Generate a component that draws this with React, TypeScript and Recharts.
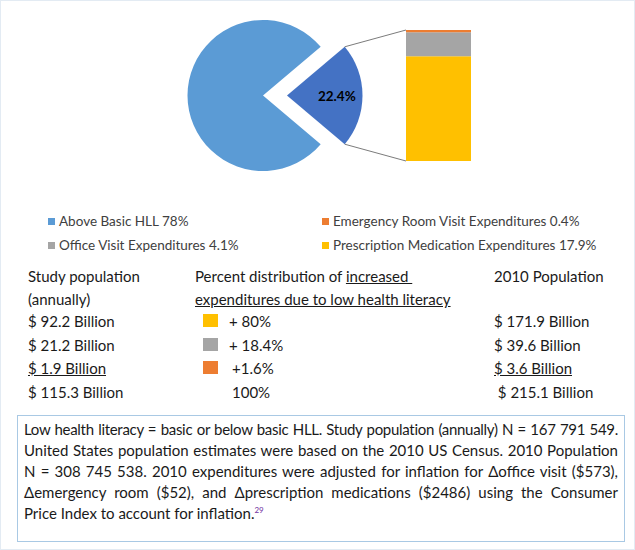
import { PieChart, Pie, Cell, BarChart, Bar, XAxis, YAxis } from 'recharts';

// pie: low health literacy share vs above basic
const pieNames = ['Basic or below basic HLL', 'Above Basic HLL'];
const pieValues = [22.4, 78];
const pieColors = ['#4472C4', '#5B9BD5'];

// bar of pie: breakdown of the 22.4% slice (bottom to top)
const barKeys = ['prescription', 'office', 'emergency'];
const barValues = [17.9, 4.1, 0.4];
const barColors = ['#FFC000', '#A5A5A5', '#ED7D31'];

const legendLabels = [
  'Above Basic HLL 78%',
  'Emergency Room Visit Expenditures 0.4%',
  'Office Visit Expenditures 4.1%',
  'Prescription Medication Expenditures 17.9%',
];
const legendColors = ['#5B9BD5', '#ED7D31', '#A5A5A5', '#FFC000'];

const studyPopulation = ['$ 92.2 Billion', '$ 21.2 Billion', '$ 1.9 Billion', '$ 115.3 Billion'];
const percentShare = ['+ 80%', '+ 18.4%', '+1.6%', '100%'];
const shareColors = ['#FFC000', '#A5A5A5', '#ED7D31', ''];
const population2010 = ['$ 171.9 Billion', '$ 39.6 Billion', '$ 3.6 Billion', '\u00a0$ 215.1 Billion'];

const captionLines = [
  'Low health literacy = basic or below basic HLL. Study population (annually) N = 167 791 549.',
  'United States population estimates were based on the 2010 US Census. 2010 Population',
  'N = 308 745 538. 2010 expenditures were adjusted for inflation for \u0394office visit ($573),',
  '\u0394emergency room ($52), and \u0394prescription medications ($2486) using the Consumer',
  'Price Index to account for inflation.',
];

const FONT = 'Lato, "Open Sans", sans-serif';
const CHART_W = 635;
const CHART_H = 195;
const PIE_CX = 263;
const PIE_CY = 95.5;
const PIE_R = 75.5;
const EXPLODE = 24;
const BAR_LEFT = 406;
const BAR_RIGHT = 471;
const BAR_TOP = 30;
const BAR_BOTTOM = 161;

const pieData = pieNames.map((name, i) => ({ name, value: pieValues[i] }));
const pieTotal = pieValues.reduce((s, v) => s + v, 0);
const startAngle = (pieValues[0] / pieTotal) * 180;

const barRow: Record<string, any> = { name: 'Low HLL' };
barKeys.forEach((k, i) => (barRow[k] = barValues[i]));
const barData = [barRow];

const RADIAN = Math.PI / 180;

const renderSliceLabel = (props: any) => {
  const { cx, cy, midAngle, outerRadius, percent, index, value } = props;
  if (index !== 0) return null;
  const half = percent * 180;
  const aTop = (midAngle + half) * RADIAN;
  const aBot = (midAngle - half) * RADIAN;
  const top = { x: cx + outerRadius * Math.cos(aTop), y: cy - outerRadius * Math.sin(aTop) };
  const bot = { x: cx + outerRadius * Math.cos(aBot), y: cy - outerRadius * Math.sin(aBot) };
  const lr = outerRadius * 0.66;
  return (
    <g>
      <line x1={top.x} y1={top.y} x2={BAR_LEFT} y2={BAR_TOP} stroke="#595959" strokeWidth={0.8} />
      <line x1={bot.x} y1={bot.y} x2={BAR_LEFT} y2={BAR_BOTTOM} stroke="#595959" strokeWidth={0.8} />
      <text
        x={cx + lr * Math.cos(-midAngle * RADIAN)}
        y={cy + lr * Math.sin(-midAngle * RADIAN)}
        textAnchor="middle"
        dominantBaseline="central"
        fill="#000"
        style={{ fontSize: 13.5, fontWeight: 700, fontFamily: FONT }}
      >
        {`${value}%`}
      </text>
    </g>
  );
};

const abs = (left: number, top: number, extra: any = {}) => ({
  position: 'absolute' as const,
  left,
  top,
  whiteSpace: 'nowrap' as const,
  ...extra,
});

export default function App() {
  const rowY = [320, 343.5, 367, 390.5];
  const lh = 20;
  const tableFont = { fontSize: 15, lineHeight: `${lh}px`, color: '#1a1a1a' };

  return (
    <div
      style={{
        position: 'absolute',
        left: 0,
        top: 0,
        width: 635,
        height: 550,
        boxSizing: 'border-box',
        border: '1px solid #e3ebf3',
        background: '#fff',
        fontFamily: FONT,
        overflow: 'hidden',
      }}
    >
      <div style={{ position: 'absolute', left: -1, top: -1 }}>
        <PieChart width={CHART_W} height={CHART_H} margin={{ top: 0, right: 0, bottom: 0, left: 0 }}>
          <Pie
            data={pieData}
            dataKey="value"
            cx={PIE_CX}
            cy={PIE_CY}
            outerRadius={PIE_R}
            startAngle={startAngle}
            endAngle={startAngle - 360}
            stroke="none"
            isAnimationActive={false}
          >
            {pieData.map((_, i) => (
              <Cell key={`a-${i}`} fill={i === 1 ? pieColors[1] : 'transparent'} />
            ))}
          </Pie>
          <Pie
            data={pieData}
            dataKey="value"
            cx={PIE_CX + EXPLODE}
            cy={PIE_CY}
            outerRadius={PIE_R}
            startAngle={startAngle}
            endAngle={startAngle - 360}
            stroke="none"
            label={renderSliceLabel}
            labelLine={false}
            isAnimationActive={false}
          >
            {pieData.map((_, i) => (
              <Cell key={`b-${i}`} fill={i === 0 ? pieColors[0] : 'transparent'} />
            ))}
          </Pie>
        </PieChart>
      </div>
      <div style={{ position: 'absolute', left: -1, top: -1, pointerEvents: 'none' }}>
        <BarChart
          width={CHART_W}
          height={CHART_H}
          data={barData}
          barCategoryGap={0}
          margin={{ top: BAR_TOP, bottom: CHART_H - BAR_BOTTOM, left: BAR_LEFT, right: CHART_W - BAR_RIGHT }}
        >
          <XAxis dataKey="name" hide />
          <YAxis hide domain={[0, pieValues[0]]} />
          {barKeys.map((k, i) => (
            <Bar key={k} dataKey={k} stackId="s" fill={barColors[i]} isAnimationActive={false} />
          ))}
        </BarChart>
      </div>

      {/* legend */}
      {legendLabels.map((label, i) => {
        const col = i % 2;
        const row = Math.floor(i / 2);
        const x = col === 0 ? 47 : 321;
        const y = row === 0 ? 220 : 244;
        return (
          <div key={label} style={abs(x, y - 8, { fontSize: 13.5, lineHeight: '16px', color: '#404040', display: 'flex', alignItems: 'center' })}>
            <span style={{ display: 'inline-block', width: 7, height: 7, background: legendColors[i], marginRight: 4 }} />
            {label}
          </div>
        );
      })}

      {/* table */}
      <div style={abs(27, 275 - lh / 2, tableFont)}>Study population</div>
      <div style={abs(27, 298 - lh / 2, tableFont)}>(annually)</div>
      <div style={abs(194, 275 - lh / 2, tableFont)}>
        Percent distribution of <span style={{ textDecoration: 'underline' }}>increased&nbsp;</span>
      </div>
      <div style={abs(194, 298 - lh / 2, tableFont)}>
        <span style={{ textDecoration: 'underline' }}>expenditures due to low health literacy</span>
      </div>
      <div style={abs(493, 275 - lh / 2, tableFont)}>2010 Population</div>

      {studyPopulation.map((t, i) => (
        <div key={`sp-${i}`} style={abs(27, rowY[i] - lh / 2, { ...tableFont, textDecoration: i === 2 ? 'underline' : 'none' })}>
          {t}
        </div>
      ))}
      {percentShare.map((t, i) => (
        <div key={`ps-${i}`} style={abs(i >= 2 ? 231 : 228, rowY[i] - lh / 2, tableFont)}>
          {t}
        </div>
      ))}
      {shareColors.map((c, i) =>
        c ? <div key={`sc-${i}`} style={abs(202, rowY[i] - 7, { width: 15, height: 13, background: c })} /> : null
      )}
      {population2010.map((t, i) => (
        <div key={`p10-${i}`} style={abs(493, rowY[i] - lh / 2, { ...tableFont, textDecoration: i === 2 ? 'underline' : 'none' })}>
          {t}
        </div>
      ))}

      {/* caption box */}
      <div
        style={{
          position: 'absolute',
          left: 16,
          top: 414,
          width: 608,
          height: 127,
          boxSizing: 'border-box',
          border: '1px solid #a9c9e4',
          padding: '3px 6px 0 6px',
          fontSize: 15,
          lineHeight: '21px',
          color: '#1a1a1a',
        }}
      >
        {captionLines.map((line, i) => {
          const last = i === captionLines.length - 1;
          return (
            <div
              key={`cap-${i}`}
              style={{
                textAlign: 'justify',
                textAlignLast: last ? 'left' : 'justify',
                whiteSpace: 'nowrap',
                letterSpacing: i === 0 ? -0.3 : 0,
                wordSpacing: i === 0 ? -3 : 0,
              }}
            >
              {line}
              {last && <sup style={{ fontSize: 8, color: '#7030A0', verticalAlign: 'top', lineHeight: '14px' }}>29</sup>}
            </div>
          );
        })}
      </div>
    </div>
  );
}
